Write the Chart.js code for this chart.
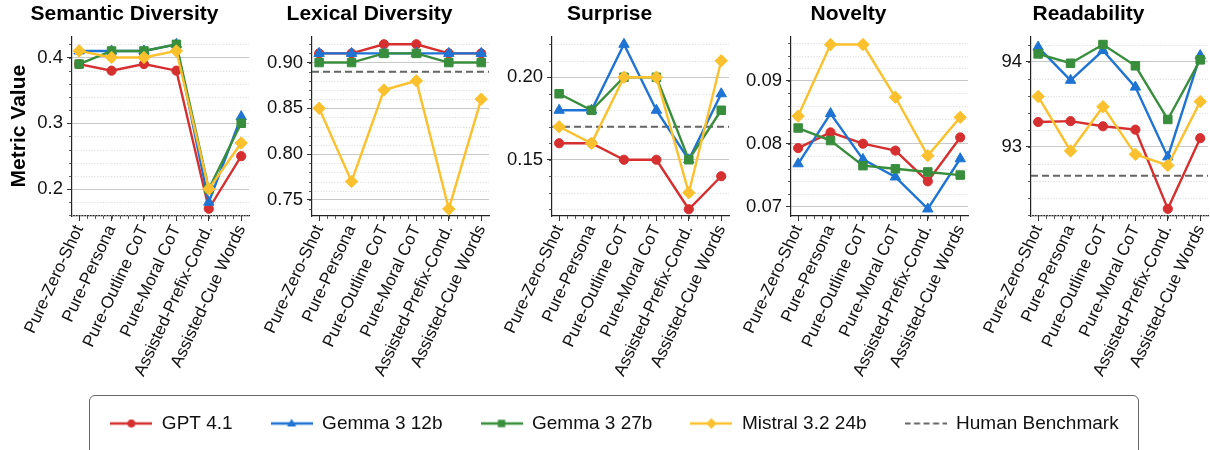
<!DOCTYPE html>
<html lang="en">
<head>
<meta charset="UTF-8">
<title>Prompting strategies - text metrics</title>
<script src="https://cdn.jsdelivr.net/npm/chart.js@4.4.1/dist/chart.umd.min.js"></script>
<style>
html, body { margin: 0; padding: 0; background: #fff; }
body { width: 1210px; height: 450px; position: relative; overflow: hidden; }
.panel { position: absolute; top: 0; height: 390px; }
#legendWrap { position: absolute; left: 19px; top: 376px; width: 1191px; height: 160px; }
#legendBox { position: absolute; left: 89px; top: 395px; width: 1050px; height: 70px; border: 1.3px solid #666; border-radius: 6px; box-sizing: border-box; }
</style>
</head>
<body>
<div id="legendBox"></div>
<div id="legendWrap"><canvas id="legend"></canvas></div>
<script>
// categories and series
const categories = ['Pure-Zero-Shot', 'Pure-Persona', 'Pure-Outline CoT', 'Pure-Moral CoT', 'Assisted-Prefix-Cond.', 'Assisted-Cue Words'];
const models = ['GPT 4.1', 'Gemma 3 12b', 'Gemma 3 27b', 'Mistral 3.2 24b'];

const semanticGpt41     = [0.39, 0.38, 0.39, 0.38, 0.17, 0.25];
const semanticGemma12   = [0.41, 0.41, 0.41, 0.42, 0.18, 0.31];
const semanticGemma27   = [0.39, 0.41, 0.41, 0.42, 0.20, 0.30];
const semanticMistral   = [0.41, 0.40, 0.40, 0.41, 0.20, 0.27];

const lexicalGpt41      = [0.91, 0.91, 0.92, 0.92, 0.91, 0.91];
const lexicalGemma12    = [0.91, 0.91, 0.91, 0.91, 0.91, 0.91];
const lexicalGemma27    = [0.90, 0.90, 0.91, 0.91, 0.90, 0.90];
const lexicalMistral    = [0.85, 0.77, 0.87, 0.88, 0.74, 0.86];

const surpriseGpt41     = [0.16, 0.16, 0.15, 0.15, 0.12, 0.14];
const surpriseGemma12   = [0.18, 0.18, 0.22, 0.18, 0.15, 0.19];
const surpriseGemma27   = [0.19, 0.18, 0.20, 0.20, 0.15, 0.18];
const surpriseMistral   = [0.17, 0.16, 0.20, 0.20, 0.13, 0.21];

const noveltyGpt41      = [0.0793, 0.0818, 0.0800, 0.0789, 0.0740, 0.0810];
const noveltyGemma12    = [0.0768, 0.0848, 0.0775, 0.0747, 0.0696, 0.0776];
const noveltyGemma27    = [0.0825, 0.0805, 0.0765, 0.0760, 0.0755, 0.0750];
const noveltyMistral    = [0.0844, 0.0958, 0.0958, 0.0874, 0.0781, 0.0842];

const readabilityGpt41   = [93.29, 93.30, 93.24, 93.20, 92.27, 93.10];
const readabilityGemma12 = [94.17, 93.78, 94.13, 93.70, 92.88, 94.07];
const readabilityGemma27 = [94.09, 93.98, 94.20, 93.95, 93.32, 94.02];
const readabilityMistral = [93.59, 92.95, 93.47, 92.91, 92.78, 93.53];

const humanBenchmark = [null, 0.89, 0.17, null, 92.66];

// y tick labels per panel
const semanticTicks = [0.2, 0.3, 0.4];
const lexicalTicks = [0.75, 0.80, 0.85, 0.90];
const surpriseTicks = [0.15, 0.20];
const noveltyTicks = [0.07, 0.08, 0.09];
const readabilityTicks = [93, 94];

const panels = [
  { title: 'Semantic Diversity', series: [semanticGpt41, semanticGemma12, semanticGemma27, semanticMistral], min: 0.159, max: 0.4324, ticks: semanticTicks, digits: 1, minor: 0.02 },
  { title: 'Lexical Diversity', series: [lexicalGpt41, lexicalGemma12, lexicalGemma27, lexicalMistral], min: 0.7323, max: 0.9288, ticks: lexicalTicks, digits: 2, minor: 0.01 },
  { title: 'Surprise', series: [surpriseGpt41, surpriseGemma12, surpriseGemma27, surpriseMistral], min: 0.1159, max: 0.2249, ticks: surpriseTicks, digits: 2, minor: 0.01 },
  { title: 'Novelty', series: [noveltyGpt41, noveltyGemma12, noveltyGemma27, noveltyMistral], min: 0.06848, max: 0.09713, ticks: noveltyTicks, digits: 2, minor: 0.002 },
  { title: 'Readability', series: [readabilityGpt41, readabilityGemma12, readabilityGemma27, readabilityMistral], min: 92.186, max: 94.298, ticks: readabilityTicks, digits: 0, minor: 0.2 }
];

const colors = ['#d62f2f', '#1f74d3', '#388e3c', '#fbc02d'];
const markers = ['circle', 'triangle', 'rect', 'rectRot'];
const markerRadius = [4.6, 6, 6, 6.2];

// layout
const plotLeft = [72, 312, 552, 791, 1031];
const plotWidth = 177;
const yAxisW = [72, 62, 62, 62, 62];
const xMin = -0.22, xMax = 5.24;

Chart.defaults.font.family = "'Liberation Sans', Arial, sans-serif";
Chart.defaults.color = '#111';

// dotted minor grid + small minor ticks
const minorPlugin = {
  id: 'minorGrid',
  beforeDatasetsDraw(chart, args, opts) {
    const { ctx, chartArea: a, scales: { x, y } } = chart;
    const step = opts.step;
    ctx.save();
    for (let v = Math.ceil(y.min / step) * step; v <= y.max; v += step) {
      const isMajor = opts.major.some(m => Math.abs(m - v) < step / 10);
      const py = Math.round(y.getPixelForValue(v)) + 0.5;
      if (!isMajor) {
        ctx.strokeStyle = '#d4d4d4';
        ctx.lineWidth = 0.8;
        ctx.setLineDash([1.2, 1.6]);
        ctx.beginPath(); ctx.moveTo(a.left, py); ctx.lineTo(a.right, py); ctx.stroke();
      }
      ctx.setLineDash([]);
      ctx.strokeStyle = '#333';
      ctx.lineWidth = 0.8;
      ctx.beginPath(); ctx.moveTo(a.left - 3, py); ctx.lineTo(a.left, py); ctx.stroke();
    }
    for (let v = 0; v <= x.max; v += 0.25) {
      const px = Math.round(x.getPixelForValue(v)) + 0.5;
      ctx.strokeStyle = '#333';
      ctx.lineWidth = 0.8;
      ctx.beginPath(); ctx.moveTo(px, a.bottom); ctx.lineTo(px, a.bottom + 3); ctx.stroke();
    }
    ctx.restore();
  }
};

panels.forEach((p, i) => {
  const div = document.createElement('div');
  div.className = 'panel';
  div.style.left = (plotLeft[i] - yAxisW[i]) + 'px';
  div.style.width = (2 * yAxisW[i] + plotWidth) + 'px';
  const cv = document.createElement('canvas');
  div.appendChild(cv);
  document.body.appendChild(div);

  const datasets = p.series.map((vals, k) => ({
    label: models[k],
    data: vals.map((v, j) => ({ x: j, y: v })),
    borderColor: colors[k],
    backgroundColor: colors[k],
    pointBackgroundColor: colors[k],
    pointBorderColor: colors[k],
    pointStyle: markers[k],
    pointRadius: markerRadius[k],
    pointBorderWidth: 1,
    borderWidth: 2.4,
    tension: 0,
    order: 4 - k
  }));
  if (humanBenchmark[i] !== null) {
    datasets.push({
      label: 'Human Benchmark',
      data: [{ x: xMin, y: humanBenchmark[i] }, { x: xMax, y: humanBenchmark[i] }],
      borderColor: '#666',
      borderDash: [7, 4],
      borderWidth: 2,
      pointRadius: 0,
      order: 5
    });
  }

  new Chart(cv, {
    type: 'line',
    data: { datasets },
    plugins: [minorPlugin],
    options: {
      responsive: true,
      maintainAspectRatio: false,
      animation: false,
      layout: { padding: { top: 0, left: 0, bottom: 0, right: yAxisW[i] } },
      plugins: {
        legend: { display: false },
        tooltip: { enabled: false },
        title: {
          display: true,
          text: p.title,
          color: '#000',
          font: { size: 21, weight: 'bold' },
          padding: { top: 2, bottom: 9 }
        },
        minorGrid: { step: p.minor, major: p.ticks }
      },
      scales: {
        x: {
          type: 'linear',
          min: xMin,
          max: xMax,
          afterBuildTicks: s => { s.ticks = categories.map((c, j) => ({ value: j })); },
          afterFit: s => { s.height = 174; s.paddingLeft = 0; s.paddingRight = 0; },
          ticks: {
            autoSkip: false,
            minRotation: 65,
            maxRotation: 65,
            padding: 1,
            color: '#111',
            font: { size: 17 },
            callback: v => categories[v]
          },
          grid: { drawOnChartArea: false, drawTicks: true, tickLength: 5, tickColor: '#333', tickWidth: 1 },
          border: { display: true, color: '#222', width: 1.2 }
        },
        y: {
          type: 'linear',
          min: p.min,
          max: p.max,
          afterBuildTicks: s => { s.ticks = p.ticks.map(v => ({ value: v })); },
          afterFit: s => { s.width = yAxisW[i]; s.paddingTop = 0; s.paddingBottom = 0; },
          ticks: {
            padding: 4,
            color: '#111',
            font: { size: 18.5 },
            callback: v => v.toFixed(p.digits)
          },
          grid: { color: '#c8c8c8', lineWidth: 1, tickLength: 5, tickColor: '#333', tickWidth: 1 },
          border: { display: true, color: '#222', width: 1.2 },
          title: i === 0
            ? { display: true, text: 'Metric Value', color: '#000', font: { size: 21, weight: 'bold' }, padding: { top: 7, bottom: 0 } }
            : { display: false }
        }
      }
    }
  });
});

// legend icons: line with marker in the middle
function legendIcon(k) {
  const c = document.createElement('canvas');
  c.width = 42; c.height = 16;
  const g = c.getContext('2d');
  if (k === 4) {
    g.strokeStyle = '#666';
    g.lineWidth = 2;
    g.setLineDash([6, 3.5]);
    g.beginPath(); g.moveTo(0, 8); g.lineTo(42, 8); g.stroke();
    return c;
  }
  g.strokeStyle = colors[k];
  g.fillStyle = colors[k];
  g.lineWidth = 2.4;
  g.beginPath(); g.moveTo(0, 8); g.lineTo(42, 8); g.stroke();
  g.beginPath();
  if (k === 0) g.arc(21, 8, 3.9, 0, Math.PI * 2);
  if (k === 1) { g.moveTo(21, 3.2); g.lineTo(25.6, 11); g.lineTo(16.4, 11); g.closePath(); }
  if (k === 2) g.rect(17.3, 4.3, 7.4, 7.4);
  if (k === 3) { g.moveTo(21, 2.5); g.lineTo(26, 8); g.lineTo(21, 13.5); g.lineTo(16, 8); g.closePath(); }
  g.fill();
  return c;
}

const legendNames = models.concat(['Human Benchmark']);

new Chart(document.getElementById('legend'), {
  type: 'line',
  data: { datasets: [] },
  options: {
    responsive: true,
    maintainAspectRatio: false,
    animation: false,
    layout: { padding: 0 },
    scales: { x: { display: false }, y: { display: false } },
    plugins: {
      tooltip: { enabled: false },
      legend: {
        display: true,
        position: 'top',
        labels: {
          usePointStyle: true,
          pointStyleWidth: 42,
          padding: 38,
          color: '#111',
          font: { size: 19 },
          generateLabels: () => legendNames.map((name, k) => ({
            text: name,
            pointStyle: legendIcon(k),
            fillStyle: 'transparent',
            strokeStyle: 'transparent',
            lineWidth: 0,
            fontColor: '#111',
            hidden: false,
            datasetIndex: k
          }))
        }
      }
    }
  }
});
</script>
</body>
</html>
